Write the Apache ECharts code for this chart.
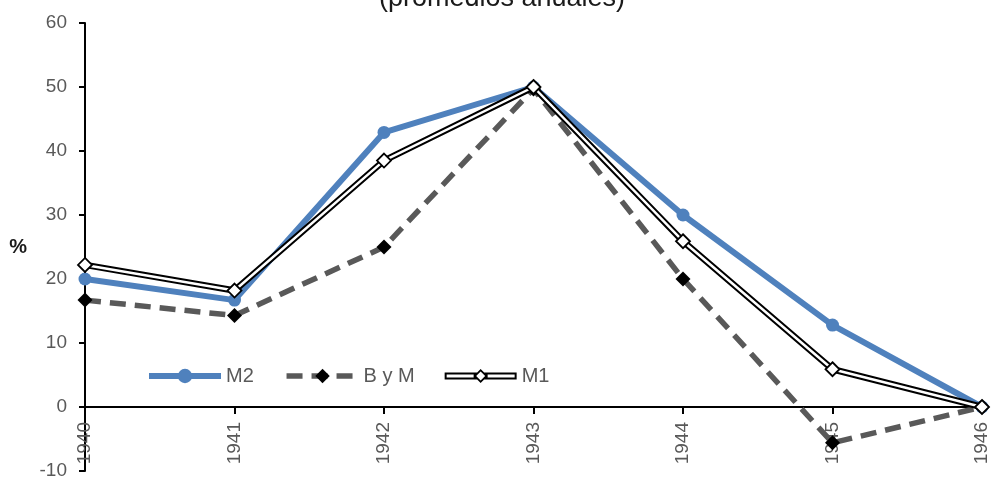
<!DOCTYPE html>
<html>
<head>
<meta charset="utf-8">
<script src="https://cdn.jsdelivr.net/npm/echarts@6/dist/echarts.min.js"></script>
<style>
  html, body { margin: 0; padding: 0; background: #fff; }
  #chart { width: 992px; height: 477px; }
</style>
</head>
<body>
<div id="chart"></div>
<script>
// Annual averages, percent change, 1940-1946
const years = ['1940', '1941', '1942', '1943', '1944', '1945', '1946'];
const m2 = [20.0, 16.7, 42.9, 50.0, 30.0, 12.8, 0];
const byM = [16.7, 14.3, 25.0, 49.7, 20.0, -5.6, 0];
const m1 = [22.2, 18.2, 38.5, 50.0, 25.9, 5.9, 0];
const yTicks = { min: -10, max: 60, step: 10 };

const GREY = '#595959';
const FONT = 'Arial, "Liberation Sans", sans-serif';

// Legend icon for the double-outlined M1 line with its hollow diamond
const m1Icon = 'path://' +
  'M0,3.5 L32.5,3.5 L29,7 L32.5,10.5 L0,10.5 Z M2,5.5 L2,8.5 L29,8.5 L29,5.5 Z ' +
  'M39.5,3.5 L72,3.5 L72,10.5 L39.5,10.5 L43,7 Z M43,5.5 L43,8.5 L70,8.5 L70,5.5 Z ' +
  'M36,0 L43,7 L36,14 L29,7 Z M36,2.5 L31.5,7 L36,11.5 L40.5,7 Z';

const gridTop = 23, gridBottom = 6, chartHeight = 477;
// the category axis sits on the zero line, with its labels just under it
const plotHeight = chartHeight - gridTop - gridBottom;
const zeroOffset = -plotHeight * (0 - yTicks.min) / (yTicks.max - yTicks.min);

const chart = echarts.init(document.getElementById('chart'), null, { renderer: 'canvas' });
chart.setOption({
  animation: false,
  backgroundColor: '#ffffff',
  textStyle: { fontFamily: FONT },
  title: {
    text: '(promedios anuales)',
    left: 497,
    textAlign: 'center',
    top: -20,
    textStyle: { fontFamily: FONT, fontSize: 27, fontWeight: 'normal', color: '#1a1a1a' }
  },
  grid: { left: 85, right: 10, top: gridTop, bottom: gridBottom, outerBoundsMode: 'none', containLabel: false },
  legend: {
    left: 146,
    top: 366,
    padding: 0,
    itemWidth: 72,
    itemHeight: 18,
    itemGap: 30,
    lineStyle: { width: 'inherit' },
    textStyle: { fontFamily: FONT, fontSize: 20, color: GREY },
    data: [
      { name: 'M2' },
      { name: 'B y M' },
      { name: 'M1', icon: m1Icon, itemStyle: { color: '#000', borderWidth: 0 } }
    ]
  },
  xAxis: {
    type: 'category',
    data: years,
    boundaryGap: false,
    offset: zeroOffset,
    axisLine: { onZero: false, lineStyle: { color: '#000', width: 2 } },
    axisTick: { show: true, alignWithLabel: true, length: 7, lineStyle: { color: '#000', width: 2 } },
    axisLabel: { rotate: 90, margin: 15, fontFamily: FONT, fontSize: 19, color: GREY },
    splitLine: { show: false }
  },
  yAxis: {
    type: 'value',
    min: yTicks.min,
    max: yTicks.max,
    interval: yTicks.step,
    name: '%',
    nameLocation: 'middle',
    nameRotate: 0,
    nameGap: 58,
    nameTextStyle: { fontFamily: FONT, fontSize: 20, fontWeight: 'bold', color: '#1a1a1a' },
    axisLine: { show: true, lineStyle: { color: '#000', width: 2 } },
    axisTick: { show: true, length: 6, lineStyle: { color: '#000', width: 2 } },
    axisLabel: { margin: 18, fontFamily: FONT, fontSize: 19, color: GREY },
    splitLine: { show: false }
  },
  series: [
    {
      name: 'M2',
      type: 'line',
      data: m2,
      symbol: 'circle',
      symbolSize: 13,
      lineStyle: { color: '#4F81BD', width: 6 },
      itemStyle: { color: '#4F81BD' },
      z: 2
    },
    {
      name: 'B y M',
      type: 'line',
      data: byM,
      symbol: 'diamond',
      symbolSize: 15,
      lineStyle: { color: GREY, width: 5.5, type: [16, 9] },
      itemStyle: { color: '#000' },
      z: 3
    },
    {
      name: 'M1',
      type: 'line',
      data: m1,
      symbol: 'none',
      lineStyle: { color: '#000', width: 6.5 },
      itemStyle: { color: '#000' },
      z: 4
    },
    {
      name: 'M1 ',
      type: 'line',
      data: m1,
      symbol: 'diamond',
      symbolSize: 14,
      lineStyle: { color: '#fff', width: 2.5 },
      itemStyle: { color: '#fff', borderColor: '#000', borderWidth: 1.8 },
      z: 5
    }
  ]
});
</script>
</body>
</html>
